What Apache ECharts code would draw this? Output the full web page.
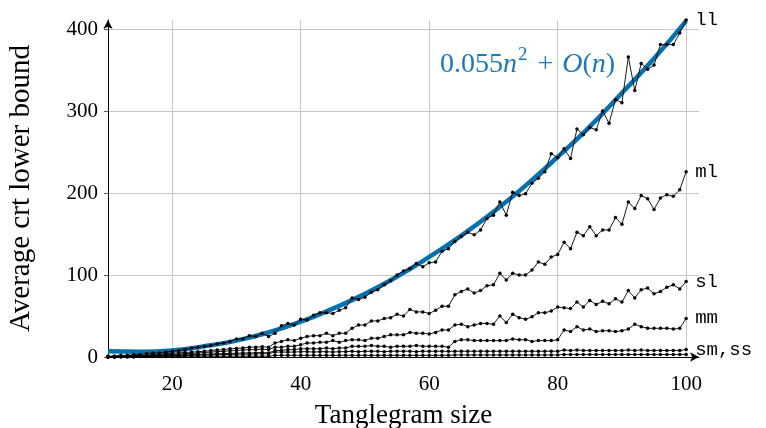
<!DOCTYPE html>
<html>
<head>
<meta charset="utf-8">
<script src="https://cdn.jsdelivr.net/npm/echarts@6/dist/echarts.min.js"></script>
<style>
html,body{margin:0;padding:0;background:#fff;}
#chart{width:766px;height:428px;}
</style>
</head>
<body>
<div id="chart"></div>
<script>
// Tanglegram sizes (x values)
const sizes = [10,11,12,13,14,15,16,17,18,19,20,21,22,23,24,25,26,27,28,29,30,31,32,33,34,35,36,37,38,39,40,41,42,43,44,45,46,47,48,49,50,51,52,53,54,55,56,57,58,59,60,61,62,63,64,65,66,67,68,69,70,71,72,73,74,75,76,77,78,79,80,81,82,83,84,85,86,87,88,89,90,91,92,93,94,95,96,97,98,99,100];

const ll = [1,1,2,2,3,3,4,5,5,6,7,8,9,11,12,13,14,16,17,19,22,22,26,25,29,25,29,38,41,39,46,45,51,54,54,53,57,60,72,70,73,79,82,88,93,100,105,108,114,110,115,116,129,132,141,147,152,149,155,169,173,189,173,201,197,199,212,218,226,248,243,254,242,278,271,280,277,300,285,314,310,366,325,358,351,356,381,381,381,395,411];

const ml = [0.5,1,1,1.5,2,2,2.5,3,3.5,4,4.5,5,5.5,6,6.5,7,8,8.5,9,10,10.5,11,12,12,12.5,12,17,19,21,20,23,25,26,26,29,26,29,29,35,39,39,44,44,47,48,52,50,58,55,55,53,57,62,62,76,80,83,78,81,87,88,102,94,102,100,100,106,116,113,122,125,140,132,152,148,159,148,155,155,170,162,189,181,197,193,180,194,198,196,204,226];

const sl = [0,0.5,1,1,1.5,1.5,2,2,2.5,3,3,3.5,4,4.5,5,5.5,6,6.5,7,7.5,8,8.5,9,9,9.5,9,12,12,13,13,15,17,17,18,18,20,18,20,21,21,20,23,23,25,27,27,27,30,29,29,28,30,33,33,39,40,37,39,41,41,40,50,42,52,48,46,49,54,54,56,61,60,59,67,61,69,64,68,65,71,67,81,72,82,84,77,80,85,88,83,92];

const mm = [0,0,0.5,0.5,1,1,1,1.5,1.5,2,2,2.5,2.5,3,3,3.5,3.5,4,4,4.5,4.5,5,5,5,5.5,5,8,8,9,9,10,10,10,10,11,10,11,11,13,13,13,14,13,13,12,13,13,13,14,13,13,13,13,12,19,21,21,20,20,20,20,20,20,22,21,21,19,20,20,20,21,33,31,37,33,34,31,32,32,31,32,34,40,37,35,35,35,35,34,35,47];

const sm = [0,0,0.5,0.5,0.5,1,1,1,1.5,1.5,1.5,2,2,2,2.5,2.5,2.5,3,3,3,3.5,3.5,3.5,4,4,4,6,6,6,6,6.5,6.5,6,6.5,6.5,6,6.5,6.5,7,6.5,7,7,7,6.5,7,7,7,7,6.5,7,7,7,7,7,7,7,7,7,7,7,7,7,7,7,7,7,7,7,7,7,7,8.5,8,8.5,8,8,8,8,8,8,8,8.5,8,8.5,8,8,8,8,8,8,9];

const ss = [0,0,0,0,0,0.5,0.5,0.5,0.5,0.5,0.5,0.5,1,1,1,1,1,1,1,1,1,1,1,1,1,1,2,2,2,2,2,2,2,2,2,2,2,2,2,2,2,2,2,2,2,2,2,2,2,2,2,2,2,2,2.5,2.5,2.5,2.5,2.5,2.5,2.5,2.5,2.5,2.5,2.5,2.5,2.5,2.5,2.5,2.5,2.5,3,3,3,3,3,3,3,3,3,3,3,3,3,3,3,3,3,3,3,3];

// fitted curve 0.055n^2 + O(n), read at every 5
const fitSizes = [10,15,20,25,30,35,40,45,50,55,60,65,70,75,80,85,90,95,100];
const fitVals  = [7,6.5,8,13,20,30,43,59,77,98,122,148,177,209,244,281,322,364,410];

const yTicks = [0,100,200,300,400];

const serif = 'Liberation Serif';
const mono = 'Liberation Mono';

function pairs(xs, ys){ return xs.map((x,i)=>[x, ys[i]]); }

function blackSeries(name, vals, label){
  return {
    name: name,
    type: 'line',
    data: pairs(sizes, vals),
    symbol: 'circle',
    symbolSize: 3.5,
    showSymbol: true,
    z: 3,
    lineStyle: {color:'#000', width:0.9},
    itemStyle: {color:'#000'},
    endLabel: label ? {
      show: true,
      formatter: label,
      color: '#000',
      fontFamily: mono,
      fontSize: 19,
      distance: 9
    } : {show:false},
    emphasis: {disabled: true}
  };
}

const chart = echarts.init(document.getElementById('chart'), null, {renderer:'canvas'});
chart.setOption({
  animation: false,
  backgroundColor: '#fff',
  grid: {left: 108, right: 67, top: 20, bottom: 71, containLabel: false, outerBoundsMode: 'none'},
  xAxis: {
    type: 'value',
    min: 10, max: 102, interval: 10,
    name: 'Tanglegram size',
    nameLocation: 'middle',
    nameGap: 45,
    nameTextStyle: {fontFamily: serif, fontSize: 27, color:'#000'},
    axisLine: {show:true, lineStyle:{color:'#000', width:1}, symbol:['none','arrow'], symbolSize:[7,9]},
    axisTick: {show:false},
    axisLabel: {
      fontFamily: serif, fontSize: 21, color:'#000', margin: 17,
      showMaxLabel: false,
      formatter: v => (v % 20 === 0 ? String(v) : '')
    },
    splitLine: {show:true, showMinLine:true, showMaxLine:false, lineStyle:{color:['rgba(0,0,0,0)','#c6c6c6'], width:1}}
  },
  yAxis: {
    type: 'value',
    min: 0, max: 411, interval: 100,
    name: 'Average crt lower bound',
    nameLocation: 'middle',
    nameRotate: 90,
    nameGap: 72,
    nameTextStyle: {fontFamily: serif, fontSize: 29, color:'#000'},
    axisLine: {show:true, lineStyle:{color:'#000', width:1}, symbol:['none','arrow'], symbolSize:[7,9]},
    axisTick: {show:true, length:4, lineStyle:{color:'#555'}},
    axisLabel: {
      fontFamily: serif, fontSize: 21, color:'#000', margin: 10,
      showMaxLabel: false,
      formatter: v => (yTicks.indexOf(v) >= 0 ? String(v) : '')
    },
    splitLine: {show:true, showMinLine:false, showMaxLine:false, lineStyle:{color:'#c6c6c6', width:1}}
  },
  graphic: [{
    type: 'text',
    left: 440,
    top: 46,
    z: 10,
    style: {
      text: '{a|0.055}{i|n}{s|2}{p|+}{i|O}{a|(}{i|n}{a|)}',
      rich: {
        a: {fontFamily: serif, fontSize: 28, fill: '#1a78be', lineHeight: 33, verticalAlign:'bottom'},
        i: {fontFamily: serif, fontSize: 28, fontStyle:'italic', fill: '#1a78be', lineHeight: 33, verticalAlign:'bottom'},
        p: {fontFamily: serif, fontSize: 28, fill: '#1a78be', lineHeight: 33, verticalAlign:'bottom', padding:[0,9,0,9]},
        s: {fontFamily: serif, fontSize: 19, fill: '#1a78be', lineHeight: 33, verticalAlign:'top', padding:[0,1,0,1]}
      }
    }
  }],
  series: [
    {
      name: 'fit',
      type: 'line',
      data: pairs(fitSizes, fitVals),
      smooth: true,
      showSymbol: false,
      z: 1,
      lineStyle: {color: '#0072b2', width: 4.5},
      emphasis: {disabled: true}
    },
    blackSeries('ss', ss, null),
    blackSeries('sm', sm, 'sm,ss'),
    blackSeries('mm', mm, 'mm'),
    blackSeries('sl', sl, 'sl'),
    blackSeries('ml', ml, 'ml'),
    blackSeries('ll', ll, 'll')
  ]
});
</script>
</body>
</html>
